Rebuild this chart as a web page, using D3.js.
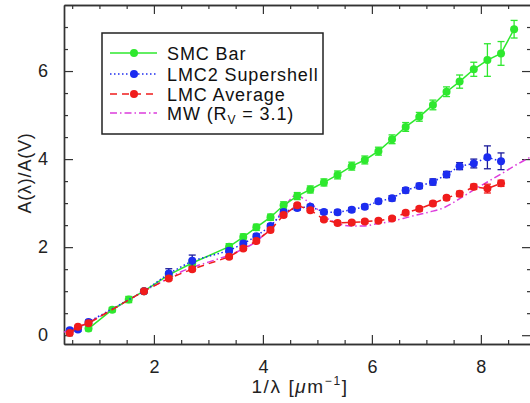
<!DOCTYPE html>
<html>
<head>
<meta charset="utf-8">
<script src="https://cdn.jsdelivr.net/npm/d3@7"></script>
<style>
  body { margin: 0; background: #fff; }
  svg { display: block; font-family: "Liberation Sans", Arial, sans-serif; }
</style>
</head>
<body>
<svg></svg>
<script>
// values
const smcX = [0.8, 1.235, 1.538, 1.818, 2.273, 2.703, 3.38, 3.64, 3.88, 4.14, 4.38, 4.63, 4.87, 5.12, 5.37, 5.63, 5.87, 6.12, 6.37, 6.62, 6.87, 7.12, 7.37, 7.61, 7.87, 8.12, 8.37, 8.61]
const smcY = [0.15, 0.58, 0.81, 1.0, 1.37, 1.64, 2.01, 2.23, 2.45, 2.68, 2.95, 3.16, 3.31, 3.47, 3.64, 3.84, 3.98, 4.18, 4.45, 4.73, 4.96, 5.23, 5.53, 5.76, 6.04, 6.25, 6.40, 6.95]
const smcErr = [0.05, 0.05, 0.07, 0, 0.07, 0.07, 0.07, 0.07, 0.07, 0.07, 0.08, 0.08, 0.08, 0.08, 0.09, 0.09, 0.09, 0.09, 0.1, 0.1, 0.1, 0.11, 0.11, 0.15, 0.16, 0.37, 0.27, 0.2]

const lmc2X = [0.455, 0.606, 0.8, 1.818, 2.273, 2.703, 3.38, 3.64, 3.88, 4.14, 4.38, 4.63, 4.87, 5.12, 5.37, 5.63, 5.87, 6.12, 6.37, 6.62, 6.87, 7.12, 7.37, 7.61, 7.87, 8.12, 8.37]
const lmc2Y = [0.11, 0.13, 0.30, 1.0, 1.40, 1.69, 1.92, 2.08, 2.25, 2.48, 2.80, 2.89, 2.92, 2.80, 2.79, 2.85, 2.92, 3.04, 3.11, 3.29, 3.39, 3.48, 3.65, 3.84, 3.90, 4.04, 3.95]
const lmc2Err = [0.04, 0.04, 0.04, 0, 0.11, 0.13, 0.05, 0.05, 0.05, 0.05, 0.05, 0.05, 0.05, 0.05, 0.05, 0.05, 0.05, 0.05, 0.06, 0.06, 0.06, 0.07, 0.07, 0.08, 0.1, 0.26, 0.19]

const lmcX = [0.455, 0.606, 0.8, 1.818, 2.273, 2.703, 3.38, 3.64, 3.88, 4.14, 4.38, 4.63, 4.87, 5.12, 5.37, 5.63, 5.87, 6.12, 6.37, 6.62, 6.87, 7.12, 7.37, 7.61, 7.87, 8.12, 8.37]
const lmcY = [0.05, 0.19, 0.27, 1.0, 1.29, 1.50, 1.78, 1.97, 2.14, 2.39, 2.73, 2.95, 2.84, 2.63, 2.55, 2.56, 2.58, 2.60, 2.65, 2.78, 2.87, 2.99, 3.12, 3.21, 3.37, 3.33, 3.45]
const lmcErr = [0.03, 0.03, 0.03, 0, 0.04, 0.04, 0.04, 0.04, 0.04, 0.04, 0.04, 0.04, 0.04, 0.04, 0.04, 0.04, 0.04, 0.04, 0.04, 0.04, 0.05, 0.05, 0.05, 0.06, 0.06, 0.1, 0.07]

const mwX = [0.35, 0.455, 0.606, 0.8, 1.0, 1.235, 1.538, 1.818, 2.0, 2.273, 2.5, 2.703, 3.0, 3.38, 3.64, 3.88, 4.12, 4.37, 4.5, 4.6, 4.75, 4.95, 5.14, 5.35, 5.6, 5.84, 6.09, 6.33, 6.57, 6.82, 7.06, 7.31, 7.61, 7.87, 8.12, 8.37, 8.62, 8.92]
const mwY = [0.07, 0.12, 0.19, 0.29, 0.42, 0.58, 0.80, 1.0, 1.12, 1.30, 1.44, 1.54, 1.66, 1.82, 1.96, 2.13, 2.42, 2.85, 3.08, 3.18, 3.10, 2.92, 2.69, 2.55, 2.48, 2.48, 2.53, 2.58, 2.65, 2.73, 2.80, 2.89, 3.10, 3.30, 3.48, 3.66, 3.85, 4.05]

const legendNames = ["SMC Bar", "LMC2 Supershell", "LMC Average", "MW (R"]
const xTicks = [2, 4, 6, 8]
const yTicks = [0, 2, 4, 6]

const green = "#2ee82e"
const blue = "#1c2cf0"
const red = "#f01c1c"
const magenta = "#dc3cdc"

function createChart() {
  const W = 530
  const H = 403
  const left = 64, right = 531, top = 5, bottom = 344

  const svg = d3.select("svg")
    .attr("width", W)
    .attr("height", H)

  const x = d3.scaleLinear().domain([0.35, 8.92]).range([left, right])
  const y = d3.scaleLinear().domain([-0.2, 7.5]).range([bottom, top])

  const minorX = d3.range(0.5, 9, 0.5).filter(function (v) { return v % 2 !== 0 })
  const minorY = d3.range(0, 7.5, 0.5).filter(function (v) { return v % 2 !== 0 })

//axes: major ticks with labels, minor ticks without
  function styleAxis(g) {
    g.selectAll("path").attr("stroke", "#333").attr("stroke-width", 1.4)
    g.selectAll("line").attr("stroke", "#333").attr("stroke-width", 1.2)
    g.selectAll("text").attr("fill", "#222").style("font-size", "18px")
  }

  svg.append("g")
    .attr("transform", "translate(0," + bottom + ")")
    .call(d3.axisBottom(x).tickValues(xTicks).tickSize(-9).tickPadding(16).tickSizeOuter(0))
    .call(styleAxis)
  svg.append("g")
    .attr("transform", "translate(0," + bottom + ")")
    .call(d3.axisBottom(x).tickValues(minorX).tickSize(-4).tickFormat("").tickSizeOuter(0))
    .call(styleAxis)
  svg.append("g")
    .attr("transform", "translate(0," + top + ")")
    .call(d3.axisTop(x).tickValues(xTicks).tickSize(-9).tickFormat("").tickSizeOuter(0))
    .call(styleAxis)
  svg.append("g")
    .attr("transform", "translate(0," + top + ")")
    .call(d3.axisTop(x).tickValues(minorX).tickSize(-4).tickFormat("").tickSizeOuter(0))
    .call(styleAxis)

  svg.append("g")
    .attr("transform", "translate(" + left + ",0)")
    .call(d3.axisLeft(y).tickValues(yTicks).tickSize(-9).tickPadding(16).tickSizeOuter(0))
    .call(styleAxis)
  svg.append("g")
    .attr("transform", "translate(" + left + ",0)")
    .call(d3.axisLeft(y).tickValues(minorY).tickSize(-4).tickFormat("").tickSizeOuter(0))
    .call(styleAxis)
  svg.append("g")
    .attr("transform", "translate(" + right + ",0)")
    .call(d3.axisRight(y).tickValues(yTicks).tickSize(-9).tickFormat("").tickSizeOuter(0))
    .call(styleAxis)
  svg.append("g")
    .attr("transform", "translate(" + right + ",0)")
    .call(d3.axisRight(y).tickValues(minorY).tickSize(-4).tickFormat("").tickSizeOuter(0))
    .call(styleAxis)

//axis titles
  const xTitle = svg.append("text")
    .attr("x", 300)
    .attr("y", 393)
    .attr("text-anchor", "middle")
    .attr("fill", "#222")
    .style("font-size", "19px")
    .style("letter-spacing", "1.6px")
  xTitle.append("tspan").text("1/λ [")
  xTitle.append("tspan").text("μ").style("font-style", "italic")
  xTitle.append("tspan").text("m")
  xTitle.append("tspan").text("−1").attr("dy", -8).style("font-size", "12px")
  xTitle.append("tspan").text("]").attr("dy", 8)

  svg.append("text")
    .attr("transform", "translate(31,173) rotate(-90)")
    .attr("text-anchor", "middle")
    .attr("fill", "#222")
    .style("font-size", "18px")
    .style("letter-spacing", "0.8px")
    .text("A(λ)/A(V)")

//series
  function pts(xs, ys, es) {
    return xs.map(function (v, i) { return { x: v, y: ys[i], e: es ? es[i] : 0 } })
  }
  const line = d3.line()
    .x(function (d) { return x(d.x) })
    .y(function (d) { return y(d.y) })

  const plot = svg.append("g")

  plot.append("path")
    .datum(pts(mwX, mwY))
    .attr("fill", "none")
    .attr("stroke", magenta)
    .attr("stroke-width", 1.5)
    .attr("stroke-dasharray", "7,3,1.5,3")
    .attr("d", line.curve(d3.curveMonotoneX))

  line.curve(d3.curveLinear)

  const series = [
    { d: pts(smcX, smcY, smcErr), color: green, err: green, dash: null },
    { d: pts(lmc2X, lmc2Y, lmc2Err), color: blue, err: "#1a1a9a", dash: "1.5,2.5" },
    { d: pts(lmcX, lmcY, lmcErr), color: red, err: red, dash: "7,5" }
  ]

  series.forEach(function (s) {
    const g = plot.append("g")
    g.append("path")
      .datum(s.d)
      .attr("fill", "none")
      .attr("stroke", s.color)
      .attr("stroke-width", 1.5)
      .attr("stroke-dasharray", s.dash)
      .attr("d", line)

    const eb = g.selectAll(".err")
      .data(s.d.filter(function (d) { return d.e > 0 }))
      .enter()
      .append("g")
      .attr("stroke", s.err)
      .attr("stroke-width", 1.3)
    eb.append("line")
      .attr("x1", function (d) { return x(d.x) })
      .attr("x2", function (d) { return x(d.x) })
      .attr("y1", function (d) { return y(d.y - d.e) })
      .attr("y2", function (d) { return y(d.y + d.e) })
    eb.append("line")
      .attr("x1", function (d) { return x(d.x) - 3.5 })
      .attr("x2", function (d) { return x(d.x) + 3.5 })
      .attr("y1", function (d) { return y(d.y + d.e) })
      .attr("y2", function (d) { return y(d.y + d.e) })
    eb.append("line")
      .attr("x1", function (d) { return x(d.x) - 3.5 })
      .attr("x2", function (d) { return x(d.x) + 3.5 })
      .attr("y1", function (d) { return y(d.y - d.e) })
      .attr("y2", function (d) { return y(d.y - d.e) })

    g.selectAll("circle")
      .data(s.d)
      .enter()
      .append("circle")
      .attr("cx", function (d) { return x(d.x) })
      .attr("cy", function (d) { return y(d.y) })
      .attr("r", 4)
      .attr("fill", s.color)
  })

//add legend
  const legend = svg.append("g").attr("id", "legend")
  legend.append("rect")
    .attr("x", 102)
    .attr("y", 33)
    .attr("width", 221)
    .attr("height", 101)
    .attr("fill", "#fff")
    .attr("stroke", "#222")
    .attr("stroke-width", 1.5)

  const legendStyle = [
    { color: green, dash: null, marker: true },
    { color: blue, dash: "1.5,2.5", marker: true },
    { color: red, dash: "7,5", marker: true },
    { color: magenta, dash: "7,3,1.5,3", marker: false }
  ]
  const rows = [53, 74, 94, 113]

  legendNames.forEach(function (name, i) {
    const st = legendStyle[i]
    legend.append("line")
      .attr("x1", 110).attr("x2", 157)
      .attr("y1", rows[i]).attr("y2", rows[i])
      .attr("stroke", st.color)
      .attr("stroke-width", 1.5)
      .attr("stroke-dasharray", st.dash)
    if (st.marker) {
      legend.append("circle")
        .attr("cx", 134).attr("cy", rows[i])
        .attr("r", 4)
        .attr("fill", st.color)
    }
    const t = legend.append("text")
      .attr("x", 167)
      .attr("y", rows[i] + 6.5)
      .attr("fill", "#111")
      .style("font-size", "18px")
      .style("letter-spacing", "0.9px")
      .text(name)
    if (i === 3) {
      t.append("tspan").text("V").attr("dy", 4).style("font-size", "12px")
      t.append("tspan").text(" = 3.1)").attr("dy", -4)
    }
  })
}

createChart()
</script>
</body>
</html>
